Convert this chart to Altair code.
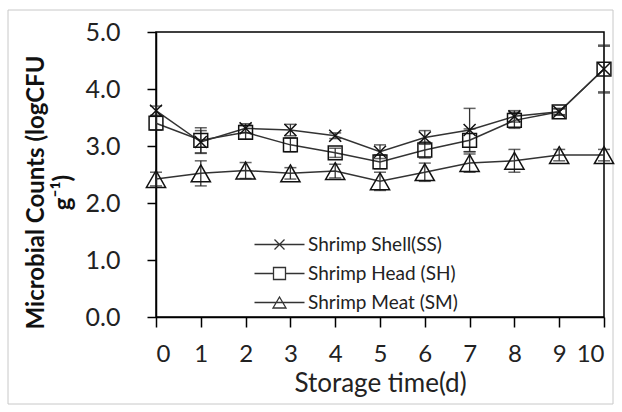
import altair as alt
import pandas as pd

days = list(range(11))
series_names = ["Shrimp Shell(SS)", "Shrimp Head (SH)", "Shrimp Meat (SM)"]

ss_mean = [3.62, 3.07, 3.31, 3.28, 3.18, 2.90, 3.15, 3.28, 3.52, 3.60, 4.35]
ss_err = [0.08, 0.20, 0.08, 0.10, 0.05, 0.12, 0.12, 0.38, 0.10, 0.05, 0.40]
sh_mean = [3.40, 3.10, 3.24, 3.02, 2.88, 2.72, 2.93, 3.10, 3.45, 3.60, 4.35]
sh_err = [0.12, 0.22, 0.12, 0.12, 0.08, 0.12, 0.14, 0.20, 0.14, 0.06, 0.42]
sm_mean = [2.42, 2.52, 2.57, 2.52, 2.56, 2.38, 2.54, 2.70, 2.74, 2.84, 2.84]
sm_err = [0.12, 0.22, 0.14, 0.10, 0.12, 0.16, 0.16, 0.16, 0.20, 0.10, 0.10]

marker_paths = [
    "M-1,-1L1,1M-1,1L1,-1",
    "M-1.15,-1.15H1.15V1.15H-1.15Z",
    "M0,-1.4L1.6,1.4H-1.6Z",
]
legend_paths = [
    "M-5,0H5M-1,-1L1,1M-1,1L1,-1",
    "M-5,0H-1.2M1.2,0H5M-1.2,-1.2H1.2V1.2H-1.2Z",
    "M-5,0H5M0,-1.1L1.3,1.1H-1.3Z",
]

rows = []
for name, means, errs in zip(series_names, [ss_mean, sh_mean, sm_mean], [ss_err, sh_err, sm_err]):
    for d, m, e in zip(days, means, errs):
        rows.append({"day": d, "series": name, "mean": m, "lo": m - e, "hi": m + e})
df = pd.DataFrame(rows)

FONT = "Lato"
LINE = "#333333"

x_enc = alt.X(
    "day:Q",
    scale=alt.Scale(domain=[0, 10], nice=False),
    axis=alt.Axis(
        values=days, title="Storage time(d)", grid=False, tickSize=10,
        labelFontSize=24, titleFontSize=26, labelPadding=15, titlePadding=4,
        labelFont=FONT, titleFont=FONT, titleFontWeight="normal",
        domainColor="black", tickColor="black", domainWidth=1.5, tickWidth=1.5,
        labelColor="#222222", titleColor="#222222",
    ),
)
y_axis = alt.Axis(
    values=[0, 1, 2, 3, 4, 5], format=".1f", grid=False, tickSize=9,
    labelFontSize=25, labelPadding=27, labelFont=FONT, labelColor="#222222",
    title=["Microbial Counts (logCFU", "g\u207b\u00b9)"],
    titleFont=FONT, titleFontSize=24, titleFontWeight="bold", titleColor="#111111",
    titleLineHeight=27,
    titleX=-108, titleY=160, titleAngle=-90, titleAlign="center", titleBaseline="bottom",
    domainColor="black", tickColor="black", domainWidth=1.5, tickWidth=1.5,
)
y_scale = alt.Scale(domain=[0, 5], nice=False)

base = alt.Chart(df)

lines = base.mark_line(color=LINE, strokeWidth=1.5).encode(
    x=x_enc,
    y=alt.Y("mean:Q", scale=y_scale, axis=y_axis),
    detail="series:N",
)
rules = base.mark_rule(color=LINE, strokeWidth=1.3).encode(
    x="day:Q", y=alt.Y("lo:Q", scale=y_scale), y2="hi:Q"
)
cap_lo = base.mark_tick(orient="horizontal", size=12, thickness=1.5, color="#222222").encode(
    x="day:Q", y=alt.Y("lo:Q", scale=y_scale)
)
cap_hi = base.mark_tick(orient="horizontal", size=12, thickness=1.5, color="#222222").encode(
    x="day:Q", y=alt.Y("hi:Q", scale=y_scale)
)
points = base.mark_point(filled=False, color="#111111", strokeWidth=1.5, size=144, opacity=1).encode(
    x="day:Q",
    y=alt.Y("mean:Q", scale=y_scale),
    shape=alt.Shape("series:N", scale=alt.Scale(domain=series_names, range=marker_paths), legend=None),
)
legend_layer = base.mark_point(filled=False, size=100, opacity=0).encode(
    x="day:Q",
    y=alt.Y("mean:Q", scale=y_scale),
    shape=alt.Shape(
        "series:N",
        scale=alt.Scale(domain=series_names, range=legend_paths),
        legend=alt.Legend(
            title=None, orient="none", legendX=114, legendY=203, padding=0,
            labelFont=FONT, labelFontSize=19, labelColor="#222222", labelOffset=19,
            symbolSize=100, symbolStrokeColor=LINE, symbolStrokeWidth=1.3,
            symbolFillColor="transparent", symbolOpacity=1, rowPadding=9,
        ),
    ),
)

frame = alt.Chart(pd.DataFrame({"k": [0]})).mark_rect(
    fill="transparent", stroke="#c8c8c8", strokeWidth=1
).encode(
    x=alt.value(-148), x2=alt.value(457), y=alt.value(-22), y2=alt.value(372)
)

chart = alt.layer(frame, lines, rules, cap_lo, cap_hi, points, legend_layer).resolve_scale(
    shape="independent"
).properties(
    width=448, height=285,
    autosize=alt.AutoSizeParams(type="none"),
    padding={"left": 156, "top": 32, "right": 18, "bottom": 95},
    background="white",
).configure_view(stroke="black", strokeWidth=1.5)

chart.save("out.html", embed_options={"renderer": "svg", "actions": False})
